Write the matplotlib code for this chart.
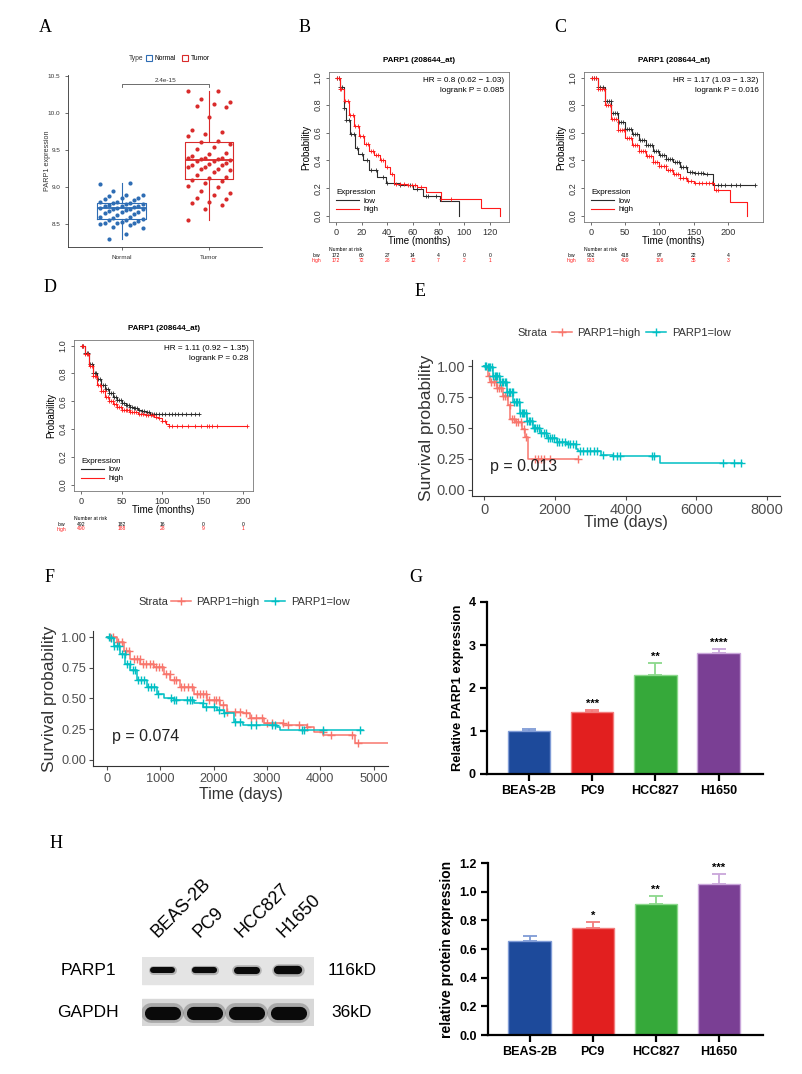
import numpy as np
import matplotlib
matplotlib.use('Agg')
import matplotlib.pyplot as plt
from matplotlib.lines import Line2D

plt.rcParams['font.family'] = ['Liberation Sans', 'DejaVu Sans']

# ------------------------------------------------------------------ data
# Panel A: PARP1 expression box plot
type_names = ['Normal', 'Tumor']
normal_vals = [9.05, 9.06, 8.95, 8.90, 8.89, 8.88, 8.86, 8.85, 8.84, 8.82, 8.80, 8.80,
               8.79, 8.78, 8.77, 8.77, 8.76, 8.75, 8.74, 8.74, 8.73, 8.72, 8.72, 8.71,
               8.70, 8.70, 8.69, 8.68, 8.67, 8.66, 8.65, 8.64, 8.62, 8.60, 8.59, 8.58,
               8.57, 8.56, 8.55, 8.54, 8.53, 8.52, 8.52, 8.51, 8.50, 8.49, 8.46, 8.45,
               8.36, 8.30]
tumor_vals = [10.30, 10.30, 10.20, 10.16, 10.13, 10.10, 10.09, 9.95, 9.78, 9.75, 9.72,
              9.70, 9.62, 9.61, 9.58, 9.55, 9.52, 9.47, 9.45, 9.42, 9.40, 9.40, 9.39,
              9.38, 9.38, 9.37, 9.36, 9.35, 9.33, 9.32, 9.30, 9.30, 9.28, 9.27, 9.25,
              9.24, 9.23, 9.20, 9.17, 9.14, 9.12, 9.10, 9.08, 9.06, 9.01, 9.00, 8.95,
              8.92, 8.89, 8.85, 8.84, 8.80, 8.78, 8.76, 8.71, 8.56]
box_q1 = [8.57, 9.11]
box_med = [8.72, 9.37]
box_q3 = [8.79, 9.61]
box_lo = [8.30, 8.56]
box_hi = [9.06, 10.30]
p_value_A = '2.4e-15'

# Panel B (KM plotter)
B_low_t = [0, 3, 6, 8, 11, 15, 17, 21, 26, 32, 39, 50, 60, 68, 81, 96]
B_low_s = [1.0, 0.93, 0.78, 0.69, 0.59, 0.49, 0.45, 0.40, 0.33, 0.28, 0.24, 0.22, 0.195, 0.145, 0.11, 0.0]
B_low_c = [1, 2, 3, 5, 6, 8, 10, 12, 14, 16, 20, 24, 27, 31, 37, 40, 45, 50, 58, 63, 70, 72, 78]
B_high_t = [0, 3, 6, 10, 14, 18, 22, 26, 30, 34, 38, 42, 45, 55, 63, 70, 82, 113, 128]
B_high_s = [1.0, 0.92, 0.83, 0.73, 0.65, 0.58, 0.52, 0.47, 0.44, 0.40, 0.35, 0.30, 0.23, 0.22, 0.21, 0.17, 0.12, 0.055, 0.0]
B_high_c = [1, 2, 3, 4, 7, 9, 11, 13, 15, 17, 19, 21, 23, 25, 27, 29, 31, 33, 35, 37, 40, 44,
            47, 50, 53, 56, 59, 62, 66, 82, 90]
B_risk_t = [0, 20, 40, 60, 80, 100, 120]
B_risk_low = [172, 60, 27, 14, 4, 0, 0]
B_risk_high = [172, 72, 28, 12, 7, 2, 1]

# Panel C
C_low_t = [0, 10, 20, 30, 40, 50, 60, 70, 80, 90, 100, 110, 120, 130, 140, 150, 165, 178, 240]
C_low_s = [1.0, 0.93, 0.83, 0.74, 0.68, 0.63, 0.59, 0.55, 0.51, 0.47, 0.44, 0.41, 0.39, 0.35, 0.32, 0.31, 0.30, 0.22, 0.22]
C_low_c = [2, 5, 8, 11, 14, 17, 20, 23, 26, 29, 32, 35, 38, 41, 44, 47, 50, 53, 56, 59, 62, 65,
           68, 71, 74, 77, 80, 83, 86, 89, 92, 95, 98, 101, 104, 107, 110, 113, 116, 119, 122,
           125, 128, 131, 134, 138, 144, 148, 152, 156, 160, 164, 170, 185, 190, 195, 205, 212,
           218, 240]
C_high_t = [0, 10, 20, 30, 40, 50, 60, 70, 80, 90, 100, 110, 120, 130, 140, 150, 179, 203, 228]
C_high_s = [1.0, 0.92, 0.80, 0.70, 0.62, 0.56, 0.51, 0.47, 0.43, 0.39, 0.36, 0.33, 0.30, 0.27, 0.25, 0.24, 0.19, 0.10, 0.0]
C_high_c = [1, 4, 7, 10, 13, 16, 19, 22, 25, 28, 31, 34, 37, 40, 43, 46, 49, 52, 55, 58, 61, 64,
            67, 70, 73, 76, 79, 82, 85, 88, 91, 94, 97, 100, 103, 106, 109, 112, 115, 118, 121,
            124, 127, 130, 134, 138, 142, 146, 152, 157, 162, 168, 172, 176, 182, 186]
C_risk_t = [0, 50, 100, 150, 200]
C_risk_low = [962, 418, 97, 22, 4]
C_risk_high = [963, 409, 106, 35, 3]

# Panel D
D_low_t = [0, 5, 10, 15, 20, 25, 30, 35, 40, 45, 50, 55, 60, 65, 70, 75, 80, 85, 90, 145]
D_low_s = [1.0, 0.95, 0.87, 0.80, 0.76, 0.72, 0.69, 0.66, 0.63, 0.61, 0.59, 0.57, 0.56, 0.55, 0.54, 0.53, 0.52, 0.51, 0.505, 0.505]
D_low_c = [1, 3, 5, 7, 9, 11, 13, 15, 17, 19, 21, 23, 25, 27, 29, 31, 33, 35, 37, 39, 41, 43,
           45, 47, 49, 51, 53, 55, 57, 59, 61, 63, 65, 67, 69, 72, 75, 78, 81, 84, 87, 90, 92,
           96, 100, 104, 108, 112, 116, 120, 125, 130, 135, 140, 145]
D_high_t = [0, 5, 10, 15, 20, 25, 30, 35, 40, 45, 50, 60, 70, 80, 90, 95, 100, 105, 108, 205]
D_high_s = [1.0, 0.94, 0.85, 0.78, 0.72, 0.67, 0.63, 0.60, 0.58, 0.56, 0.54, 0.52, 0.51, 0.50, 0.49, 0.48, 0.46, 0.44, 0.42, 0.42]
D_high_c = [1, 3, 5, 7, 9, 11, 13, 15, 17, 19, 21, 23, 25, 27, 29, 31, 33, 35, 37, 39, 41, 43,
            45, 47, 49, 51, 53, 55, 57, 59, 61, 63, 65, 68, 71, 74, 77, 80, 83, 86, 89, 92, 96,
            100, 104, 108, 112, 118, 125, 132, 140, 148, 155, 158, 162, 168, 205]
D_risk_t = [0, 50, 100, 150, 200]
D_risk_low = [492, 182, 16, 0, 0]
D_risk_high = [490, 188, 28, 9, 1]

# Panel E (days)
E_high_t = [0, 120, 170, 360, 540, 690, 730, 870, 1060, 1150, 1250, 2650]
E_high_s = [1.0, 0.92, 0.87, 0.82, 0.76, 0.69, 0.57, 0.55, 0.49, 0.43, 0.25, 0.25]
E_high_c = [150, 210, 270, 330, 380, 430, 480, 540, 600, 650, 720, 780, 850, 900, 960, 1050,
            1120, 1180, 1450, 1520, 1600, 1700, 1850, 2650]
E_low_t = [0, 75, 260, 450, 640, 830, 1010, 1200, 1390, 1580, 1770, 2050, 2330, 2610, 2650,
           3310, 3640, 4960, 7300]
E_low_s = [1.0, 0.99, 0.92, 0.87, 0.79, 0.71, 0.62, 0.56, 0.50, 0.46, 0.42, 0.39, 0.37, 0.33,
           0.31, 0.28, 0.27, 0.215, 0.215]
E_low_c = [20, 60, 100, 140, 180, 220, 260, 300, 340, 380, 420, 460, 500, 540, 580, 620, 660,
           700, 740, 780, 820, 860, 900, 940, 980, 1020, 1060, 1100, 1140, 1180, 1220, 1260,
           1300, 1350, 1400, 1450, 1500, 1560, 1620, 1680, 1740, 1800, 1860, 1920, 1980, 2050,
           2120, 2200, 2280, 2360, 2440, 2520, 2600, 2700, 2800, 2900, 3000, 3100, 3200, 3350,
           3650, 3750, 3850, 4750, 4800, 6750, 7050, 7250]
E_p = 'p = 0.013'

# Panel F (days)
F_high_t = [0, 190, 310, 440, 625, 875, 1060, 1190, 1375, 1625, 1875, 2125, 2250, 2560, 2690,
            2940, 3310, 3750, 3875, 4060, 4650, 5300]
F_high_s = [1.0, 0.96, 0.89, 0.82, 0.78, 0.76, 0.70, 0.65, 0.59, 0.54, 0.49, 0.45, 0.39, 0.38,
            0.34, 0.30, 0.28, 0.27, 0.23, 0.20, 0.14, 0.14]
F_high_c = [50, 120, 200, 280, 350, 420, 500, 560, 620, 680, 740, 800, 860, 920, 980, 1040,
            1100, 1180, 1250, 1300, 1380, 1450, 1520, 1600, 1680, 1750, 1800, 1850, 1920, 2000,
            2050, 2100, 2180, 2250, 2400, 2500, 2600, 2700, 2800, 2900, 3000, 3100, 3300, 3400,
            3600, 3750, 4050, 4200, 4600, 4700]
F_low_t = [0, 40, 125, 250, 345, 440, 560, 750, 940, 1060, 1250, 1625, 1810, 2060, 2190, 2375,
           2560, 3190, 3250, 4810]
F_low_s = [1.0, 0.99, 0.93, 0.86, 0.78, 0.73, 0.65, 0.59, 0.54, 0.50, 0.49, 0.46, 0.43, 0.41,
           0.38, 0.31, 0.28, 0.27, 0.24, 0.24]
F_low_c = [30, 80, 130, 180, 230, 280, 330, 380, 430, 480, 530, 580, 640, 700, 760, 820, 880,
           950, 1200, 1250, 1300, 1500, 1550, 1600, 1800, 1850, 2000, 2100, 2200, 2400, 2500,
           2700, 2800, 3100, 3150, 3650, 3700, 4050, 4750]
F_p = 'p = 0.074'

# Panel G: qPCR
cell_lines = ['BEAS-2B', 'PC9', 'HCC827', 'H1650']
mrna_mean = [1.00, 1.45, 2.30, 2.82]
mrna_err = [0.05, 0.04, 0.28, 0.08]
mrna_sig = ['', '***', '**', '****']

# Panel H: western blot + quantification
blot_rows = ['PARP1', 'GAPDH']
blot_kd = ['116kD', '36kD']
parp1_band_signal = [0.72, 0.74, 0.85, 1.00]
gapdh_band_signal = [1.00, 1.00, 1.00, 1.00]
protein_mean = [0.655, 0.745, 0.915, 1.055]
protein_err = [0.035, 0.040, 0.055, 0.065]
protein_sig = ['', '*', '**', '***']

# ------------------------------------------------------------------ figure
W, H = 802, 1074
fig = plt.figure(figsize=(W / 100, H / 100), dpi=100)
fig.patch.set_facecolor('white')


def add_ax(l, t, r, b):
    return fig.add_axes([l / W, 1 - b / H, (r - l) / W, (b - t) / H])


def ftext(x, y, s, **kw):
    return fig.text(x / W, 1 - y / H, s, **kw)


serif = ['Liberation Serif', 'DejaVu Serif']
for lab, x, y in [('A', 45, 28), ('B', 305, 28), ('C', 560, 28), ('D', 50, 288),
                  ('E', 420, 291), ('F', 50, 578), ('G', 416, 578), ('H', 56, 843)]:
    ftext(x, y, lab, family=serif, fontsize=13, ha='center', va='center')

# ------------------------------------------------------------------ A
typ_cols = ['#2E6DB4', '#D92B2B']
axA = add_ax(68, 75, 262, 247)
stats = [dict(med=box_med[i], q1=box_q1[i], q3=box_q3[i], whislo=box_lo[i],
              whishi=box_hi[i], fliers=[]) for i in range(2)]
art = axA.bxp(stats, positions=[1, 2], widths=0.55, showfliers=False)
for i, c in enumerate(typ_cols):
    art['boxes'][i].set(color=c, linewidth=0.8)
    art['medians'][i].set(color=c, linewidth=1.3)
    for w in art['whiskers'][2 * i:2 * i + 2]:
        w.set(color=c, linewidth=0.8)
    for cp in art['caps'][2 * i:2 * i + 2]:
        cp.set_visible(False)
for i, vals in enumerate([normal_vals, tumor_vals]):
    n = len(vals)
    jit = (((np.arange(n) * 7) % 11) - 5) / 5.0 * 0.24
    axA.scatter(i + 1 + jit, vals, s=9, color=typ_cols[i], zorder=3, linewidths=0)
axA.set_xlim(0.39, 2.6)
axA.set_ylim(8.19, 10.52)
axA.set_yticks([8.5, 9.0, 9.5, 10.0, 10.5])
axA.set_xticks([1, 2])
axA.set_xticklabels(type_names)
axA.tick_params(labelsize=4.6, length=2, width=0.5, colors='#333333')
for s in ['top', 'right']:
    axA.spines[s].set_visible(False)
for s in ['left', 'bottom']:
    axA.spines[s].set_linewidth(0.6)
    axA.spines[s].set_color('#333333')
axA.set_ylabel('PARP1 expression', fontsize=5.2, color='#333333')
axA.yaxis.set_label_coords(-0.09, 0.5)
axA.plot([1, 1, 2, 2], [10.36, 10.40, 10.40, 10.36], color='#555555', lw=0.6)
axA.text(1.5, 10.415, p_value_A, ha='center', va='bottom', fontsize=4.6, color='#333333')
ftext(129, 59, 'Type', fontsize=4.8, va='center', color='#333333')
hA = [Line2D([], [], marker='s', ls='none', mfc='white', mec=c, ms=4.5, mew=0.8) for c in typ_cols]
fig.legend(hA, type_names, ncol=2, loc='center left', bbox_to_anchor=(146 / W, 1 - 59 / H),
           frameon=False, fontsize=4.8, handlelength=1.0, handletextpad=0.3,
           columnspacing=0.9, borderpad=0, borderaxespad=0)


# ------------------------------------------------------------------ KM helpers
def km_step(ax, t, s, cens, color, lw=0.8, ms=3.0, mew=0.6):
    t = np.asarray(t, float)
    s = np.asarray(s, float)
    ax.step(t, s, where='post', color=color, lw=lw)
    c = np.asarray(cens, float)
    idx = np.clip(np.searchsorted(t, c, side='right') - 1, 0, len(s) - 1)
    ax.plot(c, s[idx], ls='none', marker='+', color=color, ms=ms, mew=mew)


low_col, high_col = '#2b2b2b', '#FF1A1A'
prob_ticks = [0.0, 0.2, 0.4, 0.6, 0.8, 1.0]


def r_km(ax, low, high, xlim, xticks, hr, lp, risk_t, risk_low, risk_high, axh):
    km_step(ax, *low, color=low_col)
    km_step(ax, *high, color=high_col)
    ax.set_xlim(xlim)
    ax.set_ylim(-0.045, 1.04)
    ax.set_xticks(xticks)
    ax.set_yticks(prob_ticks)
    ax.set_yticklabels([f'{v:.1f}' for v in prob_ticks], rotation=90, va='center')
    ax.tick_params(labelsize=6.6, length=2.5, width=0.5, colors='#333333', pad=2)
    for sp in ax.spines.values():
        sp.set_linewidth(0.6)
        sp.set_color('#777777')
    ax.set_title('PARP1 (208644_at)', fontsize=5.8, fontweight='bold', pad=7)
    ax.set_xlabel('Time (months)', fontsize=7)
    ax.xaxis.set_label_coords(0.5, -14 / axh)
    ax.set_ylabel('Probability', fontsize=7)
    ax.yaxis.set_label_coords(-0.1, 0.5)
    ax.text(0.975, 0.945, hr, transform=ax.transAxes, ha='right', va='center', fontsize=5.9)
    ax.text(0.975, 0.875, lp, transform=ax.transAxes, ha='right', va='center', fontsize=5.9)
    hs = [Line2D([], [], color=low_col, lw=0.8), Line2D([], [], color=high_col, lw=0.8)]
    lg = ax.legend(hs, ['low', 'high'], title='Expression', loc='lower left',
                   bbox_to_anchor=(0.01, 0.02), frameon=False, fontsize=5.8,
                   title_fontsize=5.8, handlelength=2.8, labelspacing=0.15,
                   borderpad=0.2, handletextpad=0.6)
    lg._legend_box.align = 'left'
    tr = ax.get_xaxis_transform()
    ax.text(0.0, -27 / axh, 'Number at risk', transform=ax.transAxes, ha='left', va='center', fontsize=3.6)
    ax.text(-0.07, -33 / axh, 'low', transform=ax.transAxes, ha='center', va='center', fontsize=3.6)
    ax.text(-0.07, -38 / axh, 'high', transform=ax.transAxes, ha='center', va='center',
            fontsize=3.6, color=high_col)
    for x, a, b in zip(risk_t, risk_low, risk_high):
        ax.text(x, -33 / axh, str(a), transform=tr, ha='center', va='center', fontsize=3.6)
        ax.text(x, -38 / axh, str(b), transform=tr, ha='center', va='center', fontsize=3.6,
                color=high_col)


axB = add_ax(329, 72, 509, 222)
r_km(axB, (B_low_t, B_low_s, B_low_c), (B_high_t, B_high_s, B_high_c), (-5.5, 135),
     [0, 20, 40, 60, 80, 100, 120], 'HR = 0.8 (0.62 − 1.03)', 'logrank P = 0.085',
     B_risk_t, B_risk_low, B_risk_high, 150)

axC = add_ax(584, 72, 763, 222)
r_km(axC, (C_low_t, C_low_s, C_low_c), (C_high_t, C_high_s, C_high_c), (-10, 251),
     [0, 50, 100, 150, 200], 'HR = 1.17 (1.03 − 1.32)', 'logrank P = 0.016',
     C_risk_t, C_risk_low, C_risk_high, 150)

axD = add_ax(74, 340, 253, 491)
r_km(axD, (D_low_t, D_low_s, D_low_c), (D_high_t, D_high_s, D_high_c), (-8.6, 212),
     [0, 50, 100, 150, 200], 'HR = 1.11 (0.92 − 1.35)', 'logrank P = 0.28',
     D_risk_t, D_risk_low, D_risk_high, 151)

# ------------------------------------------------------------------ ggsurvplot helpers
gg_high, gg_low = '#F8766D', '#00BFC4'


def gg_km(ax, high, low, xlim, xticks, ptxt, ptx, axh, xlab_off, tick_fs, lab_fs):
    km_step(ax, *high, color=gg_high, lw=1.1, ms=6, mew=1.0)
    km_step(ax, *low, color=gg_low, lw=1.1, ms=6, mew=1.0)
    ax.set_xlim(xlim)
    ax.set_ylim(-0.05, 1.05)
    ax.set_xticks(xticks)
    ax.set_yticks([0, 0.25, 0.5, 0.75, 1.0])
    ax.set_yticklabels(['0.00', '0.25', '0.50', '0.75', '1.00'])
    ax.tick_params(labelsize=tick_fs, length=3, width=0.8, colors='#4d4d4d', pad=2)
    for s in ['top', 'right']:
        ax.spines[s].set_visible(False)
    for s in ['left', 'bottom']:
        ax.spines[s].set_linewidth(0.8)
        ax.spines[s].set_color('#333333')
    ax.set_ylabel('Survival probability', fontsize=lab_fs, color='#333333')
    ax.set_xlabel('Time (days)', fontsize=11.5, color='#333333')
    ax.xaxis.set_label_coords(0.5, -xlab_off / axh)
    ax.text(ptx, 0.19, ptxt, ha='left', va='center', fontsize=11.5, color='#222222')


def gg_legend(xs, xh, y):
    ftext(xs, y, 'Strata', fontsize=8, va='center', color='#333333')
    hs = [Line2D([], [], color=gg_high, lw=1.1, marker='+', ms=6, mew=1.0),
          Line2D([], [], color=gg_low, lw=1.1, marker='+', ms=6, mew=1.0)]
    fig.legend(hs, ['PARP1=high', 'PARP1=low'], ncol=2, loc='center left',
               bbox_to_anchor=(xh / W, 1 - y / H), frameon=False, fontsize=8,
               handlelength=1.8, handletextpad=0.5, columnspacing=0.5, borderpad=0,
               borderaxespad=0, labelcolor='#333333')


axE = add_ax(472, 360, 780, 496)
gg_km(axE, (E_high_t, E_high_s, E_high_c), (E_low_t, E_low_s, E_low_c), (-340, 8360),
      [0, 2000, 4000, 6000, 8000], E_p, 170, 136, 19, 10.5, 12.5)
axE.yaxis.set_label_coords(-0.124, 0.5)
gg_legend(517, 552, 333)

axF = add_ax(93, 631, 388, 766)
gg_km(axF, (F_high_t, F_high_s, F_high_c), (F_low_t, F_low_s, F_low_c), (-263, 5272),
      [0, 1000, 2000, 3000, 4000, 5000], F_p, 94, 135, 21, 9.2, 12.5)
axF.yaxis.set_label_coords(-0.122, 0.5)
gg_legend(138, 171, 602)

# ------------------------------------------------------------------ bar charts
bar_cols = ['#1D4A9B', '#E21F1F', '#36A93A', '#7A3F94']
bar_edge = ['#7F9BD6', '#F27C7C', '#8BD88B', '#C9A6DA']


def prism_bar(ax, mean, err, sig, ylim, yticks, ylab, labx, ylab_size):
    x = np.arange(len(mean))
    ax.bar(x, mean, width=0.67, color=bar_cols, edgecolor=bar_edge, linewidth=1.0, zorder=2)
    for i in range(len(mean)):
        ax.errorbar(x[i], mean[i], yerr=[[0], [err[i]]], color=bar_edge[i], capsize=5,
                    elinewidth=1.3, capthick=1.3, zorder=1)
        if sig[i]:
            ax.annotate(sig[i], (x[i], mean[i] + err[i]), xytext=(0, 1),
                        textcoords='offset points', ha='center', va='bottom',
                        fontsize=8, fontweight='bold')
    ax.set_xlim(-0.66, 3.7)
    ax.set_ylim(ylim)
    ax.set_yticks(yticks)
    ax.set_xticks(x)
    ax.set_xticklabels(cell_lines)
    for s in ['top', 'right']:
        ax.spines[s].set_visible(False)
    for s in ['left', 'bottom']:
        ax.spines[s].set_linewidth(1.6)
    ax.tick_params(labelsize=9, width=1.6, length=5, pad=3)
    for t in ax.get_xticklabels() + ax.get_yticklabels():
        t.set_fontweight('bold')
    ax.set_ylabel(ylab, fontsize=ylab_size, fontweight='bold')
    ax.yaxis.set_label_coords(labx, 0.5)


axG = add_ax(487, 602, 763, 774)
prism_bar(axG, mrna_mean, mrna_err, mrna_sig, (0, 4), [0, 1, 2, 3, 4],
          'Relative PARP1 expression', -0.085, 9.3)

axH2 = add_ax(488, 863, 763, 1035)
prism_bar(axH2, protein_mean, protein_err, protein_sig, (0, 1.2),
          [0.0, 0.2, 0.4, 0.6, 0.8, 1.0, 1.2], 'relative protein expression', -0.125, 10)
axH2.set_yticklabels(['0.0', '0.2', '0.4', '0.6', '0.8', '1.0', '1.2'], fontweight='bold')

# ------------------------------------------------------------------ western blot
axW = add_ax(142, 957, 314, 1026)
gap = 0.556
row_top = [i * (1 + gap) for i in range(len(blot_rows))]
axW.set_xlim(-0.5, 3.62)
axW.set_ylim(row_top[-1] + 1, 0)
axW.axis('off')
bg = ['#e4e4e4', '#d8d8d8']
for r, top in enumerate(row_top):
    axW.axhspan(top, top + 1, color=bg[r], zorder=0)
lane = np.arange(len(cell_lines))
for r, (sig, base_w, base_lw) in enumerate([(parp1_band_signal, 0.48, 6.0),
                                            (gapdh_band_signal, 0.55, 9.5)]):
    yc = row_top[r] + 0.5
    for i in lane:
        half = base_w * (0.85 + 0.15 * sig[i]) / 2
        lw = base_lw * sig[i]
        axW.plot([i - half, i + half], [yc, yc], color='#202020', lw=lw * 1.5,
                 solid_capstyle='round', alpha=0.25, zorder=1)
        axW.plot([i - half, i + half], [yc, yc], color='#0a0a0a', lw=lw,
                 solid_capstyle='round', zorder=2)
for r, top in enumerate(row_top):
    axW.text(-1.79, top + 0.5, blot_rows[r], ha='center', va='center', fontsize=12.5)
    axW.text(4.53, top + 0.5, blot_kd[r], ha='center', va='center', fontsize=12.5)
for i, name in enumerate(cell_lines):
    axW.text(i - 0.05, -0.6, name, rotation=45, rotation_mode='anchor', ha='left',
             va='bottom', fontsize=13)

fig.savefig('out.png', dpi=100, facecolor='white')
